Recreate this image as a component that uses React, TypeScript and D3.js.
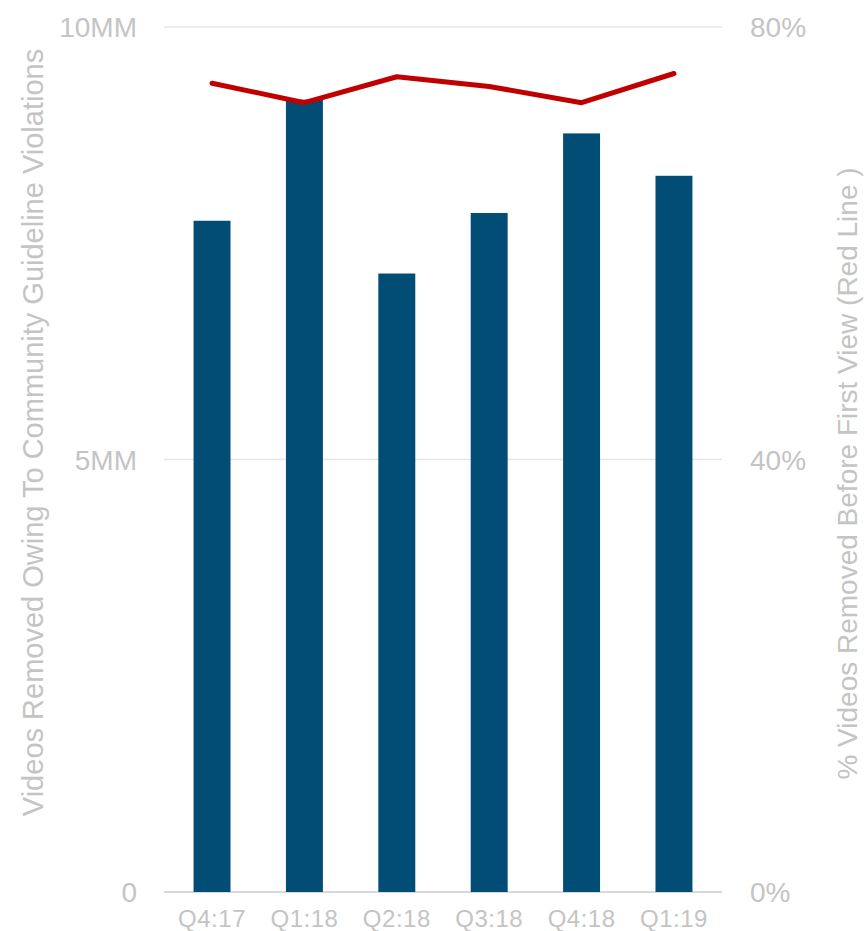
import React from "react";
import * as d3 from "d3";

const categories = ["Q4:17", "Q1:18", "Q2:18", "Q3:18", "Q4:18", "Q1:19"];
const videosRemovedMM = [7.76, 9.16, 7.15, 7.85, 8.77, 8.28];
const pctBeforeFirstView = [74.8, 73.0, 75.4, 74.5, 73.0, 75.7];
const leftTicks = [0, 5, 10];
const leftTickLabels = ["0", "5MM", "10MM"];
const rightTicks = [0, 40, 80];
const rightTickLabels = ["0%", "40%", "80%"];
const leftTitle = "Videos Removed Owing To Community Guideline Violations";
const rightTitle = "% Videos Removed Before First View (Red Line )";

const W = 866;
const H = 931;
const plot = { left: 164, right: 722, top: 27, bottom: 892 };
const textColor = "#c4c4c4";
const font = "Arial, 'Liberation Sans', Helvetica, sans-serif";

export default function App() {
  const x = d3
    .scaleBand<string>()
    .domain(categories)
    .range([plot.left, plot.right])
    .paddingInner(0.6)
    .paddingOuter(0.32);
  const yL = d3.scaleLinear().domain([0, 10]).range([plot.bottom, plot.top]);
  const yR = d3.scaleLinear().domain([0, 80]).range([plot.bottom, plot.top]);
  const line = d3
    .line<number>()
    .x((_, i) => (x(categories[i]) as number) + x.bandwidth() / 2)
    .y((d) => yR(d));

  return (
    <svg
      width={W}
      height={H}
      style={{ position: "absolute", left: 0, top: 0, background: "#fff" }}
      fontFamily={font}
    >
      {leftTicks.map((t) => (
        <line
          key={"g" + t}
          x1={plot.left}
          x2={plot.right}
          y1={yL(t)}
          y2={yL(t)}
          stroke={t === 0 ? "#d9d9d9" : "#e6e6e6"}
          strokeWidth={t === 0 ? 2 : 1.5}
        />
      ))}
      {leftTicks.map((t, i) => (
        <text
          key={"l" + t}
          x={137}
          y={yL(t)}
          dy="0.36em"
          textAnchor="end"
          fontSize={28}
          fill={textColor}
        >
          {leftTickLabels[i]}
        </text>
      ))}
      {rightTicks.map((t, i) => (
        <text
          key={"r" + t}
          x={750}
          y={yR(t)}
          dy="0.36em"
          textAnchor="start"
          fontSize={28}
          fill={textColor}
        >
          {rightTickLabels[i]}
        </text>
      ))}
      {categories.map((c, i) => (
        <rect
          key={c}
          x={x(c)}
          y={yL(videosRemovedMM[i])}
          width={x.bandwidth()}
          height={plot.bottom - yL(videosRemovedMM[i])}
          fill="#024d75"
        />
      ))}
      <path
        d={line(pctBeforeFirstView) || ""}
        fill="none"
        stroke="#c00000"
        strokeWidth={5}
        strokeLinejoin="round"
        strokeLinecap="round"
      />
      {categories.map((c) => (
        <text
          key={"x" + c}
          x={(x(c) as number) + x.bandwidth() / 2}
          y={918}
          dy="0.36em"
          textAnchor="middle"
          fontSize={24}
          letterSpacing={0.5}
          fill={textColor}
        >
          {c}
        </text>
      ))}
      <text
        transform={`translate(43, ${(847 + 18) / 2}) rotate(-90)`}
        textAnchor="middle"
        fontSize={29}
        fill={textColor}
      >
        {leftTitle}
      </text>
      <text
        transform={`translate(857, ${(880 + 67) / 2}) rotate(-90)`}
        textAnchor="middle"
        fontSize={28}
        fill={textColor}
      >
        {rightTitle}
      </text>
    </svg>
  );
}
